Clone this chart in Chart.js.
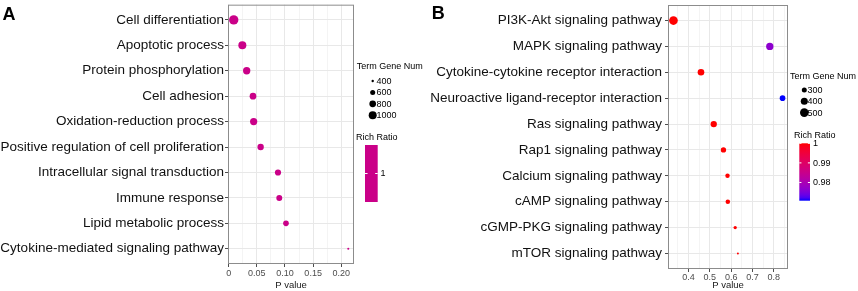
<!DOCTYPE html>
<html>
<head>
<meta charset="utf-8">
<script src="https://cdn.jsdelivr.net/npm/chart.js@4.4.1/dist/chart.umd.min.js"></script>
<style>
  body { margin: 0; width: 858px; height: 291px; overflow: hidden; background: #fff; position: relative; }
  canvas { position: absolute; top: 0; }
</style>
</head>
<body>
<canvas id="chartA" width="430" height="291" style="left:0;width:430px;height:291px"></canvas>
<canvas id="chartB" width="428" height="291" style="left:430px;width:428px;height:291px"></canvas>
<script>
// ---- panel A: GO terms ----
const termsA = [
  "Cell differentiation", "Apoptotic process", "Protein phosphorylation", "Cell adhesion",
  "Oxidation-reduction process", "Positive regulation of cell proliferation",
  "Intracellular signal transduction", "Immune response", "Lipid metabolic process",
  "Cytokine-mediated signaling pathway"
];
const pValueA = [0.009, 0.0243, 0.032, 0.0432, 0.0444, 0.0568, 0.0876, 0.0899, 0.1018, 0.2124];
const geneNumA = [1240, 1000, 895, 800, 880, 760, 735, 710, 670, 385];
const richRatioA = [1, 1, 1, 1, 1, 1, 1, 1, 1, 1];
const xTickValuesA = [0, 0.05, 0.1, 0.15, 0.2];
const xTickLabelsA = ["0", "0.05", "0.10", "0.15", "0.20"];
const sizeBreaksA = [400, 600, 800, 1000];
const colorBreaksA = [1];

// ---- panel B: KEGG pathways ----
const termsB = [
  "PI3K-Akt signaling pathway", "MAPK signaling pathway", "Cytokine-cytokine receptor interaction",
  "Neuroactive ligand-receptor interaction", "Ras signaling pathway", "Rap1 signaling pathway",
  "Calcium signaling pathway", "cAMP signaling pathway", "cGMP-PKG signaling pathway",
  "mTOR signaling pathway"
];
const pValueB = [0.3295, 0.7813, 0.4586, 0.8411, 0.5184, 0.564, 0.583, 0.5845, 0.619, 0.6317];
const geneNumB = [507, 418, 379, 329, 362, 314, 278, 282, 243, 214];
const richRatioB = [1, 0.9766, 1, 0.9707, 1, 1, 1, 1, 1, 1];
const xTickValuesB = [0.4, 0.5, 0.6, 0.7, 0.8];
const xTickLabelsB = ["0.4", "0.5", "0.6", "0.7", "0.8"];
const sizeBreaksB = [300, 400, 500];
const colorBreaksB = [1, 0.99, 0.98];

const FONT = '"Liberation Sans", Arial, sans-serif';

// low -> high colour gradient, interpolated in Lab like ggplot does
function lin(c) { c /= 255; return c <= 0.04045 ? c / 12.92 : Math.pow((c + 0.055) / 1.055, 2.4); }
function unlin(c) { c = c <= 0.0031308 ? 12.92 * c : 1.055 * Math.pow(c, 1 / 2.4) - 0.055; return Math.round(Math.min(1, Math.max(0, c)) * 255); }
function toLab(rgb) {
  const [r, g, b] = rgb.map(lin);
  const X = (0.4124 * r + 0.3576 * g + 0.1805 * b) / 0.95047;
  const Y = 0.2126 * r + 0.7152 * g + 0.0722 * b;
  const Z = (0.0193 * r + 0.1192 * g + 0.9505 * b) / 1.08883;
  const f = t => t > 0.008856 ? Math.cbrt(t) : 7.787 * t + 16 / 116;
  return [116 * f(Y) - 16, 500 * (f(X) - f(Y)), 200 * (f(Y) - f(Z))];
}
function fromLab([L, a, bb]) {
  const fy = (L + 16) / 116, fx = fy + a / 500, fz = fy - bb / 200;
  const g = t => t ** 3 > 0.008856 ? t ** 3 : (t - 16 / 116) / 7.787;
  const X = g(fx) * 0.95047, Y = g(fy), Z = g(fz) * 1.08883;
  const r = 3.2406 * X - 1.5372 * Y - 0.4986 * Z;
  const gr = -0.9689 * X + 1.8758 * Y + 0.0415 * Z;
  const b = 0.0557 * X - 0.2040 * Y + 1.0570 * Z;
  return `rgb(${unlin(r)},${unlin(gr)},${unlin(b)})`;
}
const labLow = toLab([0, 0, 255]), labHigh = toLab([255, 0, 0]);
function gradientColor(t) {
  return fromLab(labLow.map((v, i) => v + (labHigh[i] - v) * t));
}

// point area grows linearly with the gene count (fitted to the legend keys)
function sizeScale(v0, r0, v1, r1) {
  return v => Math.sqrt(Math.max(0.3, r0 * r0 + (v - v0) / (v1 - v0) * (r1 * r1 - r0 * r0)));
}

function makePanel(id, cfg) {
  const n = cfg.terms.length;
  const pMin = Math.min(...cfg.pValues), pMax = Math.max(...cfg.pValues);
  const expand = (pMax - pMin) * 0.05;
  const rMin = Math.min(...cfg.rich), rMax = Math.max(...cfg.rich);
  const tOf = v => rMax === rMin ? 0.5 : (v - rMin) / (rMax - rMin);
  const radius = cfg.radius;

  const step = xTickValuesStep(cfg.xTicks);
  const gridTicks = [];
  cfg.xTicks.forEach((v, i) => gridTicks.push({ value: v, label: cfg.xLabels[i], minor: false }));
  for (let v = cfg.xTicks[0] - step / 2; v <= pMax + expand; v += step) {
    if (v >= pMin - expand) gridTicks.push({ value: v, label: "", minor: true });
  }

  const points = cfg.terms.map((t, i) => ({ x: cfg.pValues[i], y: i, r: radius(cfg.genes[i]) }));

  const legendPlugin = {
    id: "ggLegend",
    afterDraw(chart) {
      const ctx = chart.ctx, L = cfg.legend, off = cfg.offset;
      const ca = chart.chartArea;
      // panel border
      ctx.save();
      ctx.strokeStyle = "#8c8c8c";
      ctx.lineWidth = 1;
      ctx.strokeRect(ca.left + 0.5, ca.top + 0.5, ca.right - ca.left - 1, ca.bottom - ca.top - 1);

      ctx.fillStyle = "#000";
      ctx.textBaseline = "middle";
      ctx.textAlign = "left";
      ctx.font = "9px " + FONT;
      ctx.fillText("Term Gene Num", L.sizeTitle[0] - off, L.sizeTitle[1]);
      cfg.sizeBreaks.forEach((v, i) => {
        const y = L.dotY + i * L.dotDy;
        ctx.beginPath();
        ctx.arc(L.dotX - off, y, radius(v), 0, Math.PI * 2);
        ctx.fill();
        ctx.fillText(String(v), L.dotLabelX - off, y + 0.5);
      });

      ctx.fillText("Rich Ratio", L.colorTitle[0] - off, L.colorTitle[1]);
      const [bx0, by0, bx1, by1] = L.bar;
      const bw = bx1 - bx0, bh = by1 - by0;
      if (rMax === rMin) {
        ctx.fillStyle = gradientColor(0.5);
      } else {
        const grd = ctx.createLinearGradient(0, by0, 0, by1);
        for (let k = 0; k <= 20; k++) grd.addColorStop(k / 20, gradientColor(1 - k / 20));
        ctx.fillStyle = grd;
      }
      ctx.fillRect(bx0 - off, by0, bw, bh);
      ctx.strokeStyle = "#fff";
      cfg.colorBreaks.forEach(v => {
        const y = rMax === rMin ? by0 + bh / 2 : by0 + (rMax - v) / (rMax - rMin) * bh;
        ctx.beginPath();
        ctx.moveTo(bx0 - off, y); ctx.lineTo(bx0 - off + bw / 5, y);
        ctx.moveTo(bx1 - off - bw / 5, y); ctx.lineTo(bx1 - off, y);
        ctx.stroke();
        ctx.fillStyle = "#000";
        ctx.fillText(String(v), L.barLabelX - off, y + 0.5);
      });

      // panel letter
      ctx.font = "bold 18px " + FONT;
      ctx.textBaseline = "alphabetic";
      ctx.fillText(cfg.letter, cfg.letterPos[0] - off, cfg.letterPos[1]);
      ctx.restore();
    }
  };

  return new Chart(document.getElementById(id), {
    type: "bubble",
    data: {
      datasets: [{
        data: points,
        backgroundColor: cfg.rich.map(v => gradientColor(tOf(v))),
        borderWidth: 0,
        hoverBorderWidth: 0
      }]
    },
    options: {
      responsive: false,
      animation: false,
      layout: { padding: { left: 0, top: cfg.area.top, right: cfg.area.rightPad, bottom: 0 } },
      plugins: { legend: { display: false }, tooltip: { enabled: false } },
      scales: {
        x: {
          type: "linear",
          min: pMin - expand,
          max: pMax + expand,
          afterBuildTicks: s => { s.ticks = gridTicks.map(t => ({ ...t })); },
          ticks: {
            autoSkip: false, maxRotation: 0,
            callback: (v, i, ticks) => ticks[i].label,
            font: { size: 9, family: FONT }, color: "#4d4d4d", padding: cfg.xPad
          },
          grid: {
            color: c => c.tick && c.tick.minor ? "#f4f4f4" : "#e8e8e8",
            tickColor: c => c.tick && c.tick.minor ? "rgba(0,0,0,0)" : "#4d4d4d",
            tickLength: 3
          },
          border: { display: false },
          title: { display: true, text: "P value", font: { size: 9.5, family: FONT }, color: "#1a1a1a", padding: { top: 0, bottom: 0 } },
          afterFit: s => { s.height = 291 - cfg.area.bottom; s.paddingLeft = 0; s.paddingRight = 0; }
        },
        y: {
          type: "linear",
          reverse: true,
          min: -0.6,
          max: n - 0.4,
          afterBuildTicks: s => { s.ticks = cfg.terms.map((t, i) => ({ value: i })); },
          ticks: {
            autoSkip: false,
            callback: v => cfg.terms[v],
            font: { size: 13.5, family: FONT }, color: "#111", padding: cfg.yPad
          },
          grid: { color: "#e8e8e8", tickColor: "#4d4d4d", tickLength: 3 },
          border: { display: false },
          afterFit: s => { s.width = cfg.area.left - cfg.offset; s.paddingTop = 0; s.paddingBottom = 0; }
        }
      }
    },
    plugins: [legendPlugin]
  });
}

function xTickValuesStep(vals) { return vals[1] - vals[0]; }

makePanel("chartA", {
  terms: termsA, pValues: pValueA, genes: geneNumA, rich: richRatioA,
  xTicks: xTickValuesA, xLabels: xTickLabelsA, sizeBreaks: sizeBreaksA, colorBreaks: colorBreaksA,
  radius: sizeScale(400, 1.2, 1000, 4),
  offset: 0,
  area: { left: 228, top: 2, bottom: 264, rightPad: 430 - 354 },
  xPad: 1, yPad: 1,
  letter: "A", letterPos: [2.5, 19.5],
  legend: {
    sizeTitle: [356.7, 67], dotX: 372.7, dotY: 81, dotDy: 11.4, dotLabelX: 376.5,
    colorTitle: [356, 138], bar: [365, 145, 377.7, 202], barLabelX: 380.5
  }
});

makePanel("chartB", {
  terms: termsB, pValues: pValueB, genes: geneNumB, rich: richRatioB,
  xTicks: xTickValuesB, xLabels: xTickLabelsB, sizeBreaks: sizeBreaksB, colorBreaks: colorBreaksB,
  radius: sizeScale(300, 2.5, 500, 4.3),
  offset: 430,
  area: { left: 668, top: 5, bottom: 269, rightPad: 858 - 788 },
  xPad: 0, yPad: 3,
  letter: "B", letterPos: [431.7, 18.5],
  legend: {
    sizeTitle: [790, 76.7], dotX: 804.3, dotY: 90, dotDy: 11.3, dotLabelX: 807.5,
    colorTitle: [794, 136], bar: [799.3, 143.3, 810, 200.7], barLabelX: 813
  }
});
</script>
</body>
</html>
